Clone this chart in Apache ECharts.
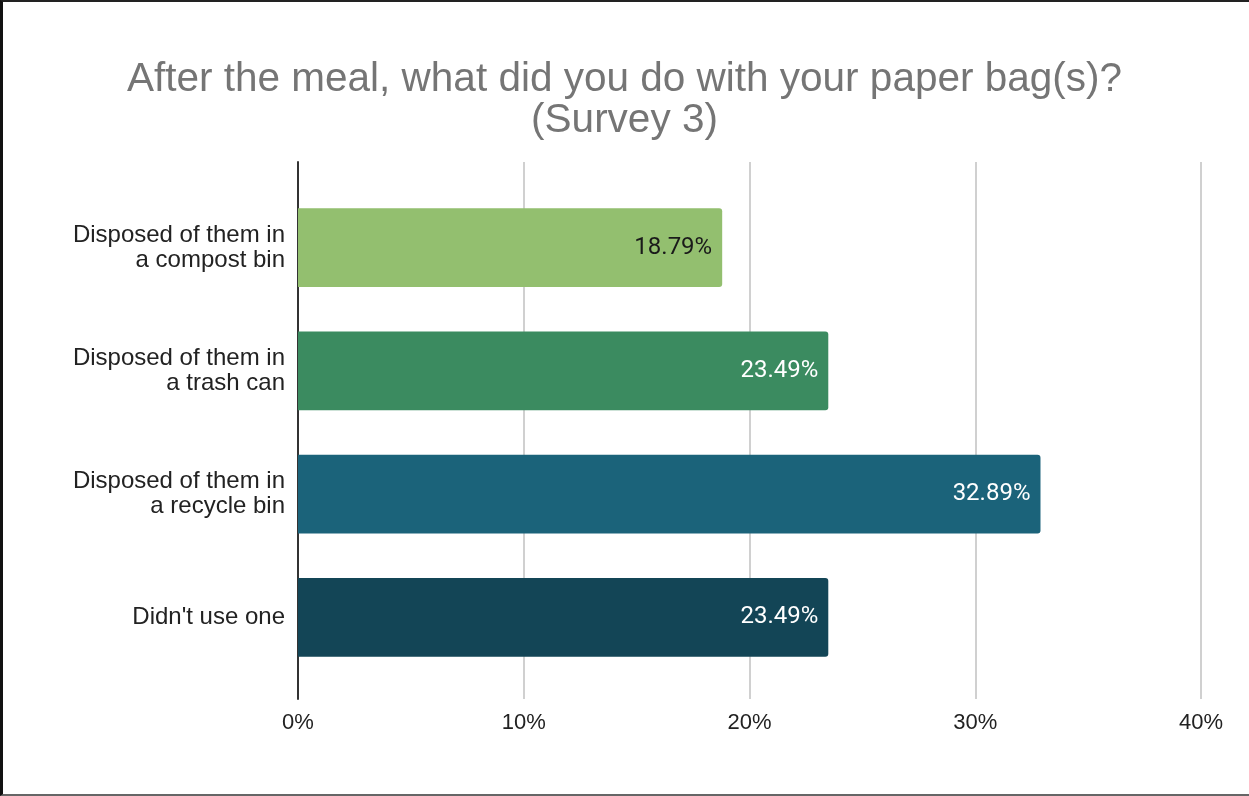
<!DOCTYPE html>
<html>
<head>
<meta charset="utf-8">
<script src="https://cdn.jsdelivr.net/npm/echarts@6/dist/echarts.min.js"></script>
<style>
  html, body { margin: 0; padding: 0; background: #fff; }
  #wrap { position: relative; width: 1249px; height: 796px; }
  #chart { position: absolute; left: 0; top: 0; width: 1249px; height: 796px; }
  #frame {
    position: absolute; left: 0; top: 0; width: 1249px; height: 796px;
    box-sizing: border-box; pointer-events: none;
    border-left: 3px solid #111; border-top: 2px solid #222; border-bottom: 2px solid #666;
  }
</style>
</head>
<body>
<div id="wrap">
  <div id="chart"></div>
  <div id="frame"></div>
</div>
<script>
const categories = [
  'Disposed of them in\na compost bin',
  'Disposed of them in\na trash can',
  'Disposed of them in\na recycle bin',
  "Didn't use one"
];
const shares = [18.79, 23.49, 32.89, 23.49];
const barColors = ['#93bf6f', '#3b8b60', '#1b637a', '#134556'];
const labelColors = ['#1a1a1a', '#ffffff', '#ffffff', '#ffffff'];
const xTicks = [0, 10, 20, 30, 40];

const chart = echarts.init(document.getElementById('chart'), null, { renderer: 'canvas' });

const option = {
  animation: false,
  backgroundColor: '#ffffff',
  title: {
    text: 'After the meal, what did you do with your paper bag(s)?\n(Survey 3)',
    left: 'center',
    top: 54,
    textStyle: {
      fontFamily: 'Liberation Sans, Arial, sans-serif',
      fontSize: 40.5,
      fontWeight: 'normal',
      color: '#757575',
      lineHeight: 41
    }
  },
  grid: [
    // frame grid: gridlines, axis line and tick labels
    { left: 298, right: 48, top: 162, bottom: 97 },
    // bar grid
    { left: 298, right: 48, top: 186, bottom: 117 }
  ],
  xAxis: [
    {
      gridIndex: 0,
      type: 'value',
      min: xTicks[0],
      max: xTicks[xTicks.length - 1],
      interval: 10,
      axisLine: { show: false },
      axisTick: { show: false },
      splitLine: { show: true, lineStyle: { color: '#d0d0d0', width: 2 } },
      axisLabel: {
        margin: 13,
        formatter: v => v + '%',
        fontFamily: 'Liberation Sans, Arial, sans-serif',
        fontSize: 22,
        color: '#222222'
      }
    },
    {
      gridIndex: 1,
      type: 'value',
      min: xTicks[0],
      max: xTicks[xTicks.length - 1],
      interval: 10,
      show: false,
      splitLine: { show: false }
    }
  ],
  yAxis: [
    {
      gridIndex: 0,
      type: 'value',
      min: 0,
      max: 1,
      axisLine: { show: true, onZero: false, lineStyle: { color: '#333333', width: 2 } },
      axisTick: { show: false },
      axisLabel: { show: false },
      splitLine: { show: false }
    },
    {
      gridIndex: 1,
      type: 'category',
      inverse: true,
      data: categories,
      axisLine: { show: false },
      axisTick: { show: false },
      splitLine: { show: false },
      axisLabel: {
        margin: 13,
        align: 'right',
        fontFamily: 'Liberation Sans, Arial, sans-serif',
        fontSize: 24,
        lineHeight: 25,
        color: '#222222'
      }
    }
  ],
  series: [
    {
      type: 'bar',
      xAxisIndex: 1,
      yAxisIndex: 1,
      barCategoryGap: '36%',
      data: shares.map((v, i) => ({
        value: v,
        itemStyle: { color: barColors[i], borderRadius: [0, 3, 3, 0] },
        label: { color: labelColors[i] }
      })),
      label: {
        show: true,
        position: 'insideRight',
        distance: 10,
        formatter: p => p.value.toFixed(2) + '%',
        fontFamily: 'Roboto, sans-serif',
        fontSize: 24
      }
    }
  ]
};

chart.setOption(option);
</script>
</body>
</html>
